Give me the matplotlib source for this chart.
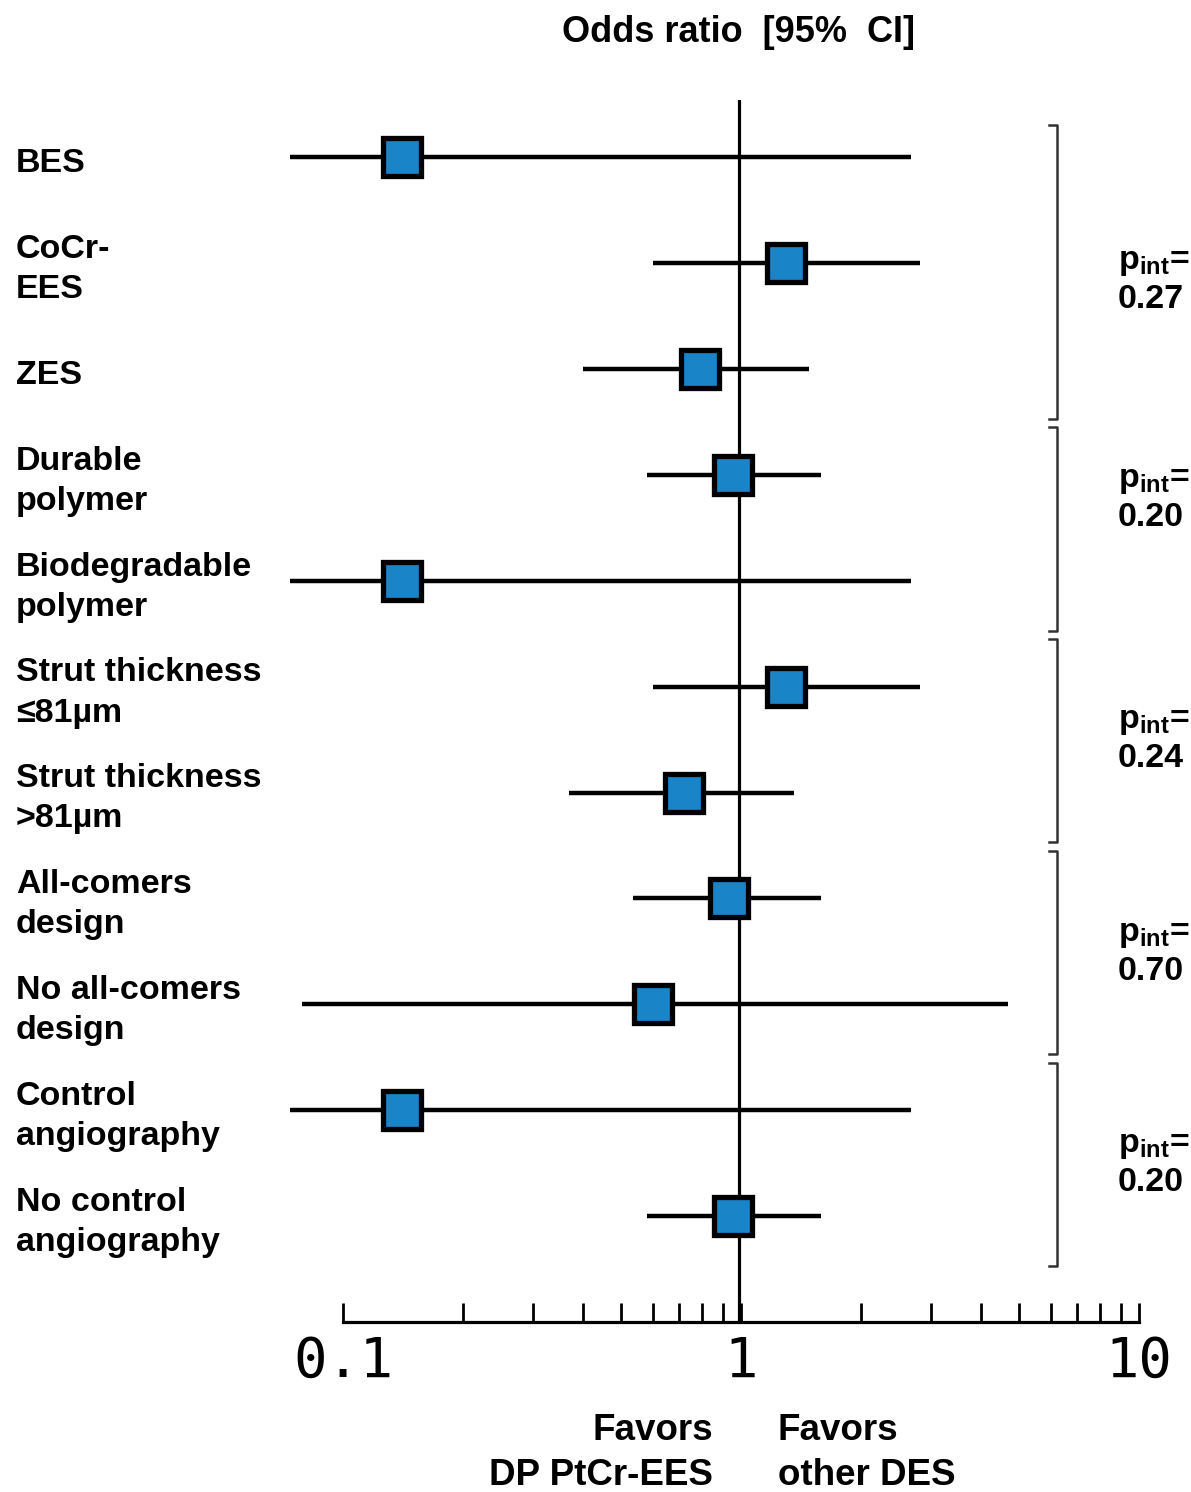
import numpy as np
import matplotlib
matplotlib.use("Agg")
import matplotlib.pyplot as plt
import matplotlib.transforms as mtransforms
from matplotlib.ticker import LogLocator, NullFormatter, FixedFormatter, FixedLocator

# Daten
labels = ["BES", "CoCr-\nEES", "ZES", "Durable\npolymer", "Biodegradable\npolymer",
          "Strut thickness\n≤81µm", "Strut thickness\n>81µm", "All-comers\ndesign",
          "No all-comers\ndesign", "Control\nangiography", "No control\nangiography"]
odds = [0.141, 1.30, 0.79, 0.955, 0.141, 1.30, 0.718, 0.933, 0.60, 0.141, 0.955]
ci_low = [0.0736, 0.60, 0.40, 0.58, 0.0736, 0.60, 0.369, 0.535, 0.0788, 0.0736, 0.58]
ci_high = [2.68, 2.81, 1.48, 1.59, 2.68, 2.81, 1.36, 1.59, 4.68, 2.68, 1.59]
groups = [(0, 2), (3, 4), (5, 6), (7, 8), (9, 10)]
p_int = ["0.27", "0.20", "0.24", "0.70", "0.20"]

plt.rcParams['font.family'] = ['Liberation Sans', 'DejaVu Sans']
plt.rcParams['font.weight'] = 'bold'
plt.rcParams['mathtext.fontset'] = 'custom'
plt.rcParams['mathtext.rm'] = 'Liberation Sans:bold'
plt.rcParams['mathtext.bf'] = 'Liberation Sans:bold'
plt.rcParams['mathtext.it'] = 'Liberation Sans:bold'

fs = 24.5
blue = '#1A84C8'

fig = plt.figure(figsize=(11.91, 14.92), dpi=100)
W, H = 1191, 1492
ax = fig.add_axes([343 / W, (H - 1322) / H, 796 / W, (1322 - 100) / H])

y = np.arange(len(labels))
ax.set_xscale('log')
ax.set_xlim(0.1, 10)
ax.set_ylim(11.0, -0.54)

ax.axvline(0.99, color='black', lw=2.3, zorder=1)
ax.hlines(y, ci_low, ci_high, color='black', lw=3.2, zorder=2, clip_on=False)
ax.plot(odds, y, 's', ms=27.5, mfc=blue, mec='black', mew=3.8, zorder=3, clip_on=False)

for s in ['top', 'right', 'left']:
    ax.spines[s].set_visible(False)
ax.spines['bottom'].set_linewidth(2.3)
ax.set_yticks([])
ax.xaxis.set_major_locator(FixedLocator([0.1, 1, 10]))
ax.xaxis.set_major_formatter(FixedFormatter(["0.1", "1", "10"]))
ax.xaxis.set_minor_locator(LogLocator(base=10, subs=np.arange(2, 10)))
ax.xaxis.set_minor_formatter(NullFormatter())
ax.tick_params(axis='x', which='both', direction='in', length=14, width=2, color='black')
ax.tick_params(axis='x', which='major', pad=9, labelsize=40)
for t in ax.get_xticklabels():
    t.set_fontfamily('DejaVu Sans Mono')
    t.set_fontweight('normal')
    t.set_x(t.get_position()[0])

# Beschriftungen links
tr = mtransforms.blended_transform_factory(fig.transFigure, ax.transData)
for i, lab in enumerate(labels):
    fig.text(16 / W, i + 0.06, lab, transform=tr, ha='left', va='center',
             fontsize=fs, fontweight='bold', linespacing=1.38)

# Klammern und p-Werte rechts
bx = 1057 / W
tick = 8 / W
p_pos = [1.17, 3.23, 5.5, 7.52, 9.51]
for k, (a, b) in enumerate(groups):
    top = a - (0.3 if k == 0 else 0.45)
    bot = b + 0.47
    ax.plot([bx - tick, bx, bx, bx - tick], [top, top, bot, bot], color='#333333',
            lw=1.8, transform=tr, clip_on=False)
    fig.text(1118 / W, p_pos[k], r"p$_{\mathrm{int}}$=" + "\n" + p_int[k], transform=tr,
             ha='left', va='center', fontsize=fs, fontweight='bold', linespacing=1.25)

fig.text(739 / W, 1 - 33 / H, "Odds ratio  [95%  CI]", ha='center', va='center',
         fontsize=26, fontweight='bold')
fig.text(713 / W, 1 - 1453 / H, "Favors\nDP PtCr-EES", ha='right', va='center',
         multialignment='right', fontsize=26.5, fontweight='bold', linespacing=1.35)
fig.text(778 / W, 1 - 1453 / H, "Favors\nother DES", ha='left', va='center',
         multialignment='left', fontsize=26.5, fontweight='bold', linespacing=1.35)

fig.savefig("out.png", dpi=100)
